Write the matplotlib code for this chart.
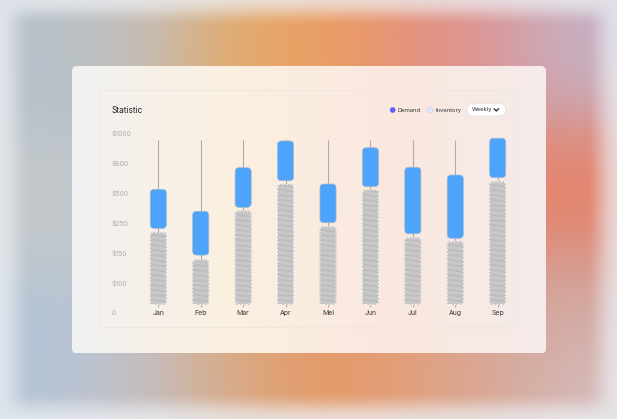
import numpy as np
import matplotlib
matplotlib.use('Agg')
import matplotlib.pyplot as plt
from matplotlib.patches import FancyBboxPatch, Circle
from matplotlib.transforms import IdentityTransform
from matplotlib.lines import Line2D
from matplotlib.colors import to_rgb

plt.rcParams['font.family'] = ['Inter', 'DejaVu Sans']

# ---------------- data ----------------
months = ['Jan', 'Feb', 'Mar', 'Apr', 'Mei', 'Jun', 'Jul', 'Aug', 'Sep']
inventory = [218, 138, 348, 584, 237, 527, 200, 187, 610]
demand_low = [231, 146, 378, 620, 250, 560, 213, 198, 650]
demand_high = [534, 345, 750, 945, 587, 900, 754, 677, 963]
range_high = [951, 951, 951, 951, 951, 951, 951, 951, 951]
range_low = [20, 20, 20, 20, 20, 20, 20, 20, 20]
inventory_base = 27
tick_values = [0, 100, 150, 250, 500, 800, 1000]
tick_labels = ['0', '$100', '$150', '$250', '$500', '$800', '$1000']
legend_labels = ['Demand', 'Inventory']

W, H = 617, 419
fig = plt.figure(figsize=(W / 100, H / 100), dpi=100)

# ---------------- background ----------------
bg = fig.add_axes([0, 0, 1, 1])
bg.set_xlim(0, W)
bg.set_ylim(H, 0)
bg.axis('off')

yy, xx = np.mgrid[0:H, 0:W] + 0.5
blobs = [
    (40, 60, '#b5c1cb'), (40, 200, '#c3c8cb'), (40, 350, '#b3c5d6'),
    (140, 40, '#c2bebb'), (240, 50, '#ddb077'), (290, 60, '#eca359'),
    (340, 55, '#ed9765'), (420, 45, '#e5907c'), (480, 55, '#da979d'),
    (575, 45, '#c4b3c6'), (565, 190, '#e4846d'), (570, 320, '#d2a29a'),
    (590, 390, '#d6c6c9'), (140, 385, '#c2c1cb'), (230, 375, '#d9ab85'),
    (320, 365, '#e69763'), (420, 375, '#e3a07e'), (500, 385, '#d5a99a'),
    (300, 200, '#f0c090'),
]
num = np.zeros((H, W, 3))
den = np.zeros((H, W))
for bx, by, c in blobs:
    w = np.exp(-((xx - bx) ** 2 + (yy - by) ** 2) / (2 * 55.0 ** 2))
    num += w[..., None] * np.array(to_rgb(c))
    den += w
img = num / den[..., None]


def smooth(t):
    t = np.clip(t, 0, 1)
    return t * t * (3 - 2 * t)


fx = smooth(xx / 32.0) * smooth((W - xx) / 32.0)
fy = smooth(yy / 28.0) * smooth((H - yy) / 28.0)
f = fx * fy
light = np.array(to_rgb('#edf0f4'))
mix = (1 - f) * 0.72
img = img * (1 - mix[..., None]) + light * mix[..., None]
bg.imshow(img, extent=(0, W, H, 0), aspect='auto', zorder=0, interpolation='bilinear')

# card
card_x0, card_y0, card_x1, card_y1 = 72, 66, 546, 353.5
card = FancyBboxPatch((card_x0, card_y0), card_x1 - card_x0, card_y1 - card_y0,
                      boxstyle='round,pad=0,rounding_size=5', facecolor='none',
                      edgecolor='none', zorder=1)
bg.add_patch(card)
stops_x = [72, 130, 230, 300, 400, 546]
stops_c = ['#f2f2f2', '#f5f1eb', '#fbf0e0', '#fbece0', '#fae8df', '#f5ebeb']
cx = np.linspace(card_x0, card_x1, 400)
grad = np.stack([np.interp(cx, stops_x, [to_rgb(c)[i] for c in stops_c]) for i in range(3)], axis=-1)
grad = np.repeat(grad[None, :, :], 50, axis=0)
cim = bg.imshow(grad, extent=(card_x0, card_x1, card_y1, card_y0), aspect='auto', zorder=1)
cim.set_clip_path(card)

# inner panel border
panel = FancyBboxPatch((99, 90.5), 418.5, 237.2, boxstyle='round,pad=0,rounding_size=2',
                       facecolor='none', edgecolor='#ece6e0', lw=0.6, zorder=2)
bg.add_patch(panel)

# title
bg.text(111.7, 110, 'Statistic', fontsize=6, color='#1e1e1e', va='center', ha='left', zorder=3)

# legend
bg.add_patch(Circle((392.7, 110), 2.8, facecolor='#5a62ee', edgecolor='none', zorder=3))
bg.text(398, 110, legend_labels[0], fontsize=4.2, color='#333333', va='center', ha='left', zorder=3)
bg.add_patch(Circle((430, 110), 2.8, facecolor='#e2e8fb', edgecolor='#c9d1f2', lw=0.5, zorder=3))
bg.text(435, 110, legend_labels[1], fontsize=4.2, color='#333333', va='center', ha='left', zorder=3)

# weekly pill
pill = FancyBboxPatch((467, 103.3), 38.7, 12.7, boxstyle='round,pad=0,rounding_size=6.3',
                      facecolor='white', edgecolor='#e6e2de', lw=0.6, zorder=3)
bg.add_patch(pill)
bg.text(472, 109.8, 'Weekly', fontsize=4.2, color='#333333', va='center', ha='left', zorder=4)
bg.plot([494.0, 496.3, 498.6], [108.7, 111.0, 108.7], color='#222222', lw=0.9,
        solid_capstyle='round', solid_joinstyle='round', zorder=4)

# ---------------- chart ----------------
ax_left, ax_right = 137.1, 518.9
ax_bottom_px, ax_top_px = 312.7, 132.7
ax = fig.add_axes([ax_left / W, (H - ax_bottom_px) / H,
                   (ax_right - ax_left) / W, (ax_bottom_px - ax_top_px) / H])
ax.patch.set_alpha(0)
for s in ax.spines.values():
    s.set_visible(False)

idx = np.arange(len(tick_values), dtype=float)
tv = np.array(tick_values, dtype=float)


def fwd(v):
    return np.interp(v, tv, idx)


def inv(p):
    return np.interp(p, idx, tv)


ax.set_yscale('function', functions=(fwd, inv))
ax.set_xlim(-0.5, len(months) - 0.5)
ax.set_ylim(0, 1000)
ax.set_autoscale_on(False)

x = np.arange(len(months))
ax.set_xticks(x)
ax.set_xticklabels(months)
ax.set_yticks(tick_values)
ax.set_yticklabels(tick_labels)
ax.yaxis.set_minor_locator(matplotlib.ticker.NullLocator())
ax.tick_params(axis='x', length=0, pad=0, labelsize=5, labelcolor='#3a3a3a')
ax.tick_params(axis='y', length=0, pad=18.3, labelsize=5, labelcolor='#b0aeac')
for t in ax.get_xticklabels():
    t.set_va('center')
for t in ax.get_yticklabels():
    t.set_ha('left')

ax.vlines(x, range_low, range_high, color='#b2aaa4', lw=0.8, zorder=1)

bar_w = 0.38
idt = IdentityTransform()


def rbar(xc, y0, y1, r, **kw):
    p0 = ax.transData.transform((xc - bar_w / 2, y0))
    p1 = ax.transData.transform((xc + bar_w / 2, y1))
    p = FancyBboxPatch((p0[0], p0[1]), p1[0] - p0[0], p1[1] - p0[1],
                       boxstyle=f'round,pad=0,rounding_size={r}',
                       transform=idt, clip_on=False, **kw)
    ax.add_artist(p)
    return p, p0, p1


for i in range(len(months)):
    # inventory (striped)
    p, p0, p1 = rbar(x[i], inventory_base, inventory[i], 3,
                     facecolor='#c8c8c8', edgecolor='#bbbbbb', lw=0.5, zorder=2)
    yk = p0[1] - 6
    while yk < p1[1] + 6:
        ln = Line2D([p0[0] - 2, p1[0] + 2], [yk + 1.2, yk - 1.2], color='#bdbdbd',
                    lw=1.4, transform=idt, zorder=3)
        ln.set_clip_path(p)
        ax.add_artist(ln)
        yk += 5.0
    rbar(x[i], inventory_base, inventory[i], 3, facecolor='none', edgecolor='#f7f7f7',
         lw=0.7, linestyle=(0, (2.2, 1.6)), zorder=4)
    # demand
    rbar(x[i], demand_low[i], demand_high[i], 4,
         facecolor='#4ea3fb', edgecolor='#a3b8cf', lw=0.5, zorder=5)

fig.savefig('out.png', dpi=100)
